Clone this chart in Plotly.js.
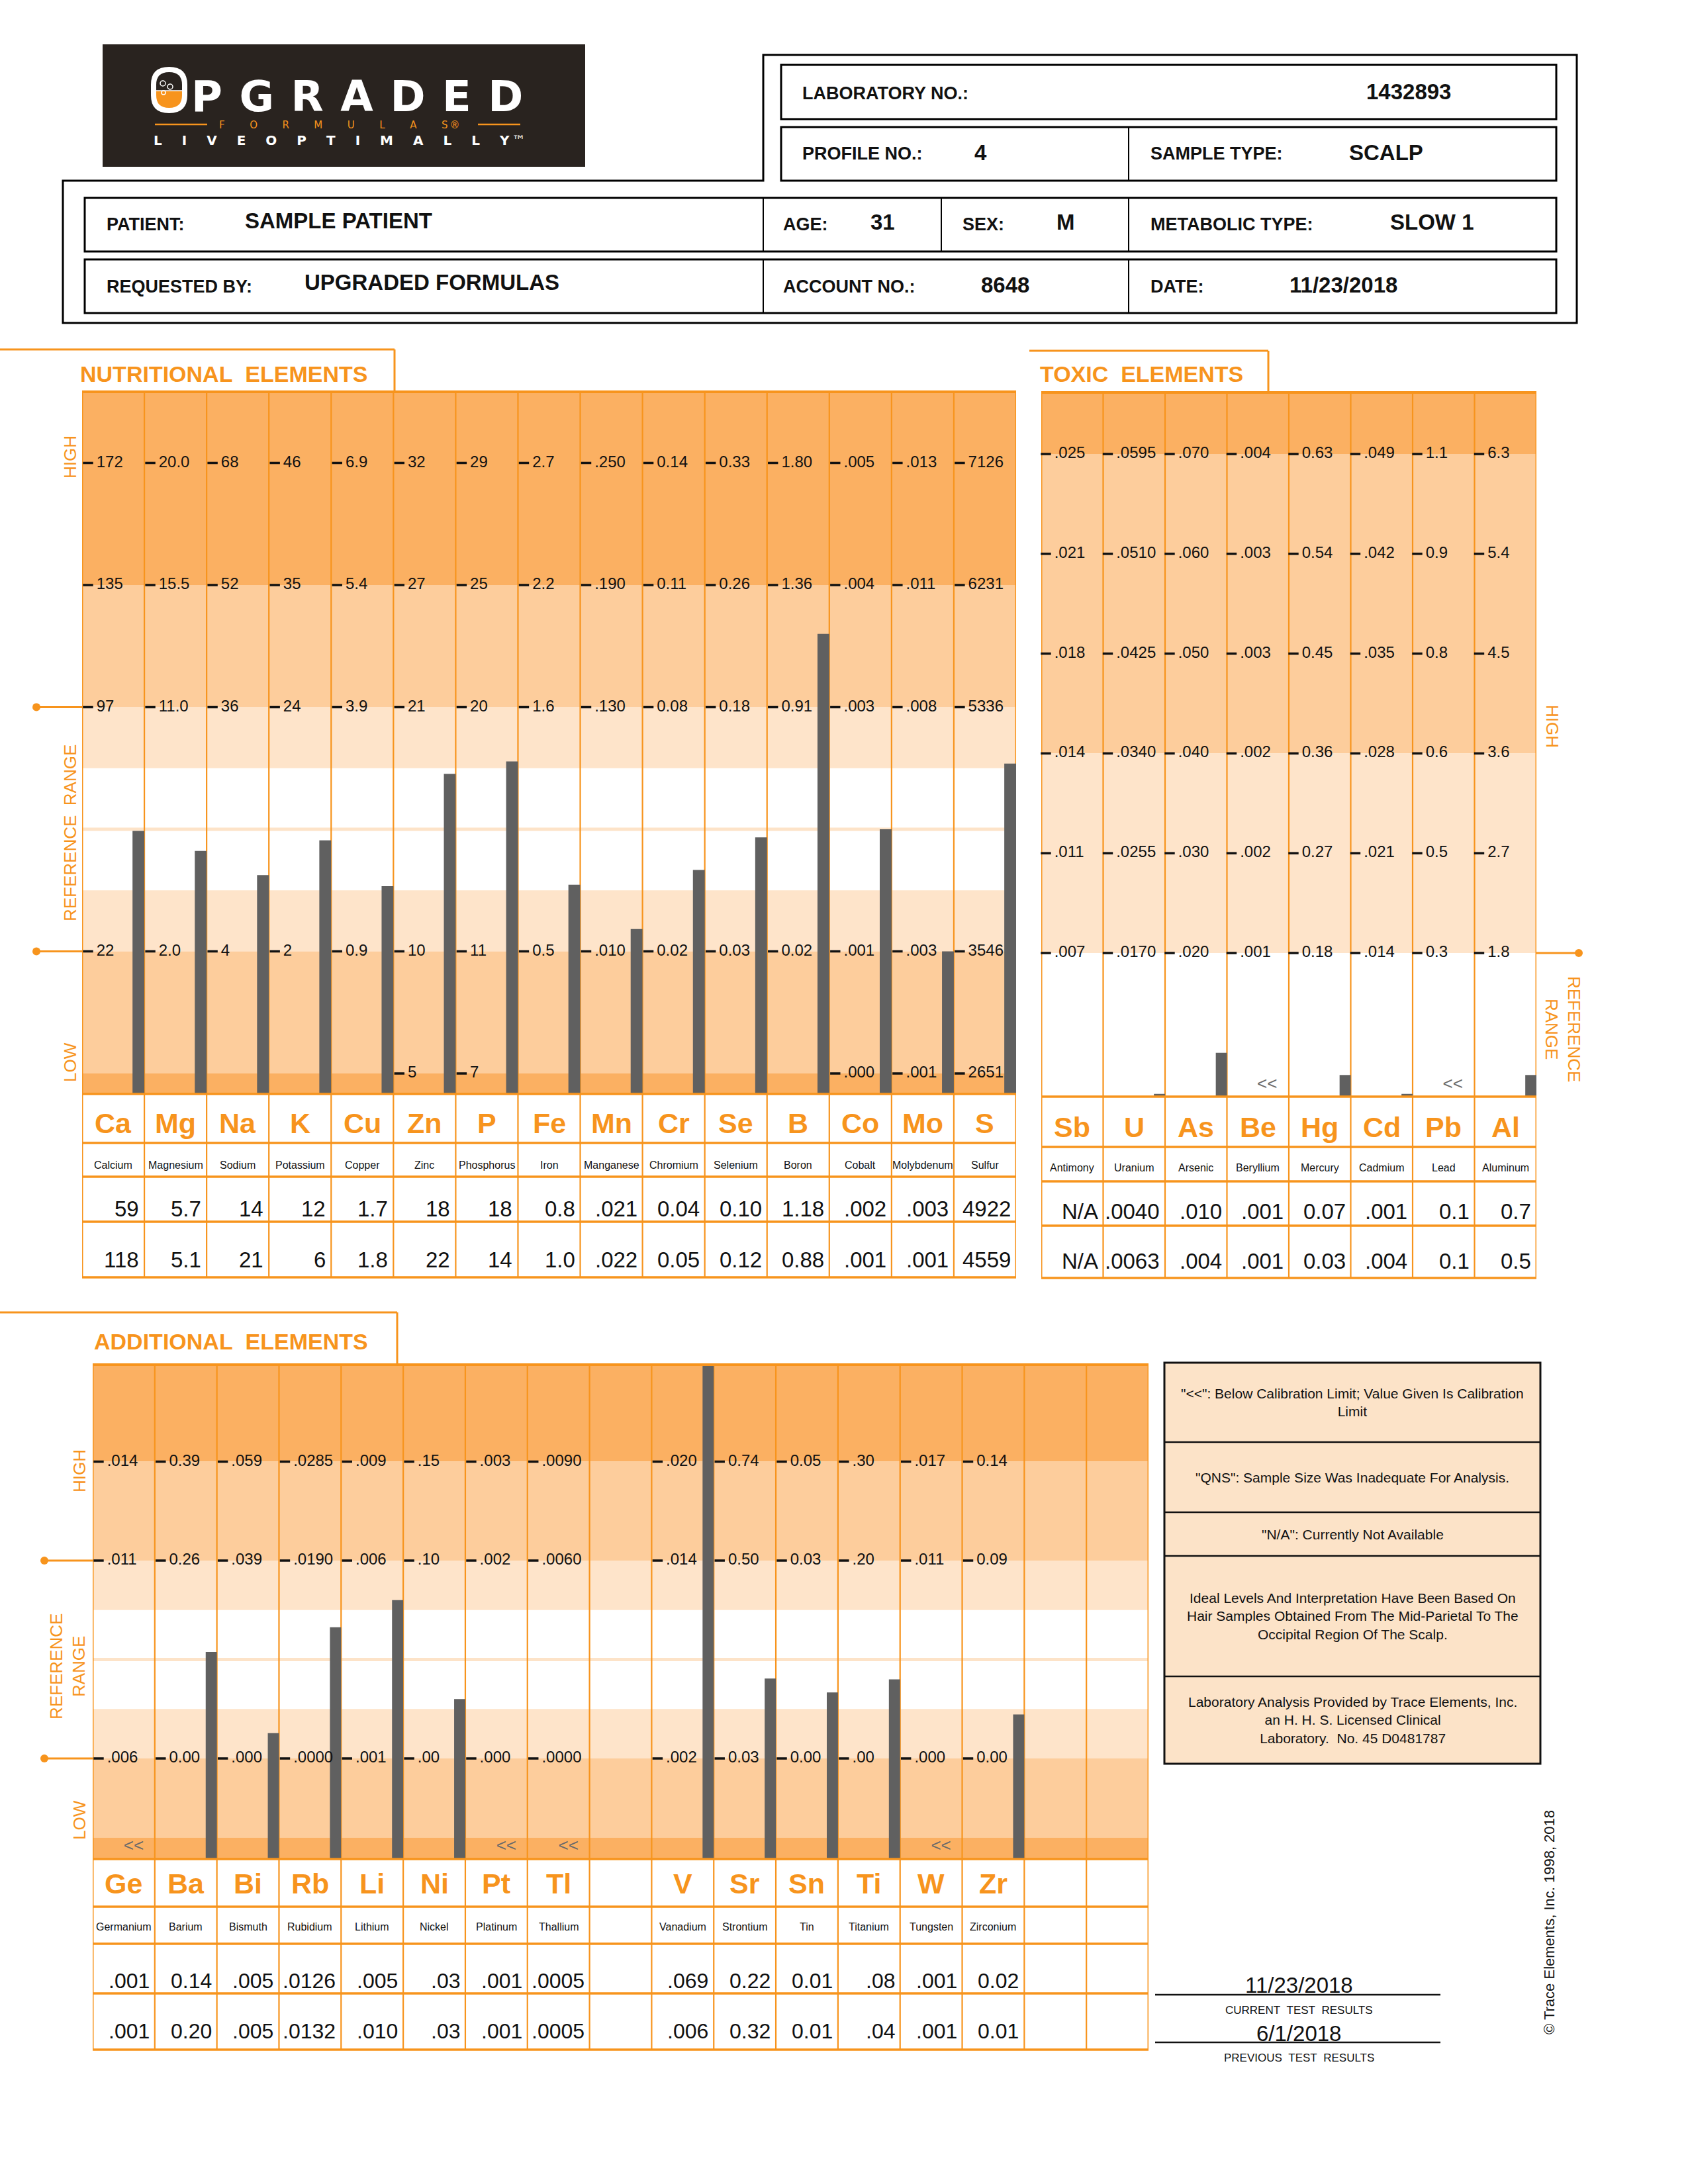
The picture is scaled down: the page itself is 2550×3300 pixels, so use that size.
<!DOCTYPE html>
<html><head><meta charset="utf-8">
<script src="https://cdn.plot.ly/plotly-3.0.1.min.js"></script>
<style>html,body{margin:0;padding:0;background:#fff}</style>
</head><body><div id="chart" style="width:2550px;height:3300px"></div>
<script>
// ================= DATA =================
const headerLabels = ['LABORATORY NO.:','PROFILE NO.:','SAMPLE TYPE:','PATIENT:','AGE:','SEX:','METABOLIC TYPE:','REQUESTED BY:','ACCOUNT NO.:','DATE:'];
const headerValues = ['1432893','4','SCALP','SAMPLE PATIENT','31','M','SLOW 1','UPGRADED FORMULAS','8648','11/23/2018'];

const nutriSymbols = ['Ca','Mg','Na','K','Cu','Zn','P','Fe','Mn','Cr','Se','B','Co','Mo','S'];
const nutriNames = ['Calcium','Magnesium','Sodium','Potassium','Copper','Zinc','Phosphorus','Iron','Manganese','Chromium','Selenium','Boron','Cobalt','Molybdenum','Sulfur'];
const nutriTickL5 = ['172','20.0','68','46','6.9','32','29','2.7','.250','0.14','0.33','1.80','.005','.013','7126'];
const nutriTickL4 = ['135','15.5','52','35','5.4','27','25','2.2','.190','0.11','0.26','1.36','.004','.011','6231'];
const nutriTickL3 = ['97','11.0','36','24','3.9','21','20','1.6','.130','0.08','0.18','0.91','.003','.008','5336'];
const nutriTickL1 = ['22','2.0','4','2','0.9','10','11','0.5','.010','0.02','0.03','0.02','.001','.003','3546'];
const nutriTickL0 = ['','','','','','5','7','','','','','','.000','.001','2651'];
const nutriCurrent = ['59','5.7','14','12','1.7','18','18','0.8','.021','0.04','0.10','1.18','.002','.003','4922'];
const nutriPrevious = ['118','5.1','21','6','1.8','22','14','1.0','.022','0.05','0.12','0.88','.001','.001','4559'];
const nutriFlags = ['','','','','','','','','','','','','','',''];

const toxicSymbols = ['Sb','U','As','Be','Hg','Cd','Pb','Al'];
const toxicNames = ['Antimony','Uranium','Arsenic','Beryllium','Mercury','Cadmium','Lead','Aluminum'];
const toxicTickL5 = ['.025','.0595','.070','.004','0.63','.049','1.1','6.3'];
const toxicTickL4 = ['.021','.0510','.060','.003','0.54','.042','0.9','5.4'];
const toxicTickL3 = ['.018','.0425','.050','.003','0.45','.035','0.8','4.5'];
const toxicTickL2 = ['.014','.0340','.040','.002','0.36','.028','0.6','3.6'];
const toxicTickL1 = ['.011','.0255','.030','.002','0.27','.021','0.5','2.7'];
const toxicTickL0 = ['.007','.0170','.020','.001','0.18','.014','0.3','1.8'];
const toxicCurrent = ['N/A','.0040','.010','.001','0.07','.001','0.1','0.7'];
const toxicPrevious = ['N/A','.0063','.004','.001','0.03','.004','0.1','0.5'];
const toxicFlags = ['','','','<<','','','<<',''];

const addSymbols = ['Ge','Ba','Bi','Rb','Li','Ni','Pt','Tl','','V','Sr','Sn','Ti','W','Zr','',''];
const addNames = ['Germanium','Barium','Bismuth','Rubidium','Lithium','Nickel','Platinum','Thallium','','Vanadium','Strontium','Tin','Titanium','Tungsten','Zirconium','',''];
const addTickL4 = ['.014','0.39','.059','.0285','.009','.15','.003','.0090','','.020','0.74','0.05','.30','.017','0.14','',''];
const addTickL3 = ['.011','0.26','.039','.0190','.006','.10','.002','.0060','','.014','0.50','0.03','.20','.011','0.09','',''];
const addTickL1 = ['.006','0.00','.000','.0000','.001','.00','.000','.0000','','.002','0.03','0.00','.00','.000','0.00','',''];
const addCurrent = ['.001','0.14','.005','.0126','.005','.03','.001','.0005','','.069','0.22','0.01','.08','.001','0.02','',''];
const addPrevious = ['.001','0.20','.005','.0132','.010','.03','.001','.0005','','.006','0.32','0.01','.04','.001','0.01','',''];
const addFlags = ['<<','','','','','','<<','<<','','','','','','<<','','',''];

const legendNotes = [
  '"<<": Below Calibration Limit; Value Given Is Calibration<br>Limit',
  '"QNS": Sample Size Was Inadequate For Analysis.',
  '"N/A": Currently Not Available',
  'Ideal Levels And Interpretation Have Been Based On<br>Hair Samples Obtained From The Mid-Parietal To The<br>Occipital Region Of The Scalp.',
  'Laboratory Analysis Provided by Trace Elements, Inc.<br>an H. H. S. Licensed Clinical<br>Laboratory.\u00A0\u00A0No. 45 D0481787'
];
const currentDate = '11/23/2018';
const previousDate = '6/1/2018';
const copyrightText = '\u00A9 Trace Elements, Inc. 1998, 2018';
const logoWord = 'PGRADED', logoSub = 'FORMULAS', logoTag = 'LIVEOPTIMALLY';

// ================= LAYOUT HELPERS =================
const W = 2550, H = 3300;
const PX = x => x / W, PY = y => 1 - y / H;
const ORANGE = '#F7941D', DARK = '#FBB062', MED = '#FDCD9C', LIGHT = '#FEE4CA', BARC = '#606060';
const FONT = 'Liberation Sans, Arial, Helvetica, sans-serif';
const shapes = [], annotations = [], traces = [];
const layout = {width: W, height: H, margin: {l: 0, r: 0, t: 0, b: 0}, paper_bgcolor: '#ffffff',
  plot_bgcolor: 'rgba(0,0,0,0)', showlegend: false, font: {family: FONT}, shapes, annotations};

function ann(text, x, y, o) {
  annotations.push(Object.assign({text, x: PX(x), y: PY(y), xref: 'paper', yref: 'paper', showarrow: false,
    xanchor: 'left', yanchor: 'middle', font: {family: FONT, size: 27, color: '#111'}}, o || {}));
}
function line(x0, y0, x1, y1, color, width, o) {
  shapes.push(Object.assign({type: 'line', xref: 'paper', yref: 'paper', x0: PX(x0), y0: PY(y0), x1: PX(x1), y1: PY(y1),
    line: {color, width}}, o || {}));
}
function rect(x0, y0, x1, y1, fill, lc, lw, o) {
  shapes.push(Object.assign({type: 'rect', xref: 'paper', yref: 'paper', x0: PX(x0), y0: PY(y1), x1: PX(x1), y1: PY(y0),
    fillcolor: fill, line: {color: lc, width: lw}}, o || {}));
}
function pathPx(pts) {
  return pts.map(s => s[0] + ' ' + s.slice(1).reduce((a, v, k) => a + (k % 2 === 0 ? PX(v) : ',' + PY(v) + ' '), '')).join(' ');
}
function circlePx(cx, cy, r, o) {
  shapes.push(Object.assign({type: 'circle', xref: 'paper', yref: 'paper', x0: PX(cx - r), x1: PX(cx + r), y0: PY(cy + r), y1: PY(cy - r)}, o));
}

// piecewise-linear level of a value within a column's tick ladder
function levelOf(points, v) {
  const pts = points.filter(p => p[1] !== '').map(p => [p[0], parseFloat(p[1])]).sort((a, b) => a[0] - b[0]);
  let i;
  if (v <= pts[0][1]) i = 0;
  else if (v >= pts[pts.length - 1][1]) i = pts.length - 2;
  else { for (i = 0; i < pts.length - 2; i++) if (v >= pts[i][1] && v <= pts[i + 1][1]) break; }
  const [l0, v0] = pts[i], [l1, v1] = pts[i + 1];
  if (v1 === v0) return l0;
  return l0 + (v - v0) * (l1 - l0) / (v1 - v0);
}

// ================= LOGO =================
rect(155, 67, 884, 252, '#29231F', '#29231F', 0);
(function () {
  const x0 = 232, x1 = 279, yt = 105, yb = 167, r = 23, xm = (x0 + x1) / 2, ymid = 137;
  shapes.push({type: 'path', xref: 'paper', yref: 'paper', fillcolor: ORANGE, line: {width: 0},
    path: pathPx([['M', x0, ymid], ['L', x1, ymid], ['L', x1, yb - r], ['Q', x1, yb, xm, yb], ['Q', x0, yb, x0, yb - r]]) + ' Z'});
  shapes.push({type: 'path', xref: 'paper', yref: 'paper', fillcolor: 'rgba(0,0,0,0)', line: {color: '#ffffff', width: 8},
    path: pathPx([['M', x0, yt + r], ['Q', x0, yt, xm, yt], ['Q', x1, yt, x1, yt + r], ['L', x1, yb - r], ['Q', x1, yb, xm, yb], ['Q', x0, yb, x0, yb - r]]) + ' Z'});
  line(x0, ymid, x1, ymid, '#ffffff', 1.5);
  circlePx(246, 126, 4, {line: {color: '#ffffff', width: 1.5}, fillcolor: 'rgba(0,0,0,0)'});
  circlePx(257, 131, 4, {line: {color: '#ffffff', width: 1.5}, fillcolor: 'rgba(0,0,0,0)'});
  circlePx(247, 140, 3, {line: {color: '#ffffff', width: 1.5}, fillcolor: 'rgba(0,0,0,0)'});
})();
ann('<b>' + logoWord.split('').join('\u2009\u200A\u200A') + '</b>', 287, 146, {font: {family: 'DejaVu Sans, sans-serif', size: 64, color: '#ffffff'}});
line(234, 188, 313, 188, ORANGE, 2.5);
line(722, 188, 786, 188, ORANGE, 2.5);
ann(logoSub.split('').join('\u2003\u2003\u2002') + '\u2009\u00AE', 512, 189, {xanchor: 'center', font: {family: 'DejaVu Sans, sans-serif', size: 15, color: ORANGE}});
ann('<b>' + logoTag.split('').join('\u2003\u2002') + '</b>\u2009\u2122', 512, 212, {xanchor: 'center', font: {family: 'DejaVu Sans, sans-serif', size: 20, color: '#ffffff'}});

// ================= HEADER BOXES =================
shapes.push({type: 'path', xref: 'paper', yref: 'paper', line: {color: '#000', width: 3}, fillcolor: 'rgba(0,0,0,0)',
  path: pathPx([['M', 95, 273], ['L', 1153, 273], ['L', 1153, 83], ['L', 2382, 83], ['L', 2382, 488], ['L', 95, 488]]) + ' Z'});
rect(1180, 98, 2351, 180, 'rgba(0,0,0,0)', '#000', 3);
rect(1180, 192, 2351, 273, 'rgba(0,0,0,0)', '#000', 3);
line(1705, 192, 1705, 273, '#000', 2);
rect(128, 299, 2351, 380, 'rgba(0,0,0,0)', '#000', 3);
[1153, 1422, 1705].forEach(x => line(x, 299, x, 380, '#000', 2));
rect(128, 392, 2351, 473, 'rgba(0,0,0,0)', '#000', 3);
[1153, 1705].forEach(x => line(x, 392, x, 473, '#000', 2));
const headerLabelPos = [[1210, 141], [1210, 232], [1736, 232], [159, 339], [1181, 339], [1452, 339], [1736, 339], [159, 433], [1181, 433], [1736, 433]];
const headerValuePos = [[2128, 139, 'center'], [1481, 230, 'center'], [2036, 230, 'left'], [368, 333, 'left'], [1313, 336, 'left'],
  [1594, 336, 'left'], [2098, 336, 'left'], [458, 426, 'left'], [1480, 430, 'left'], [1946, 430, 'left']];
headerLabels.forEach((t, i) => ann('<b>' + t + '</b>', headerLabelPos[i][0], headerLabelPos[i][1], {font: {family: FONT, size: 27, color: '#111'}}));
headerValues.forEach((t, i) => ann('<b>' + t + '</b>', headerValuePos[i][0], headerValuePos[i][1],
  {xanchor: headerValuePos[i][2], font: {family: FONT, size: 33, color: '#111'}}));

// ================= PANELS =================
const panels = [
  {sfx: '', symbols: nutriSymbols, names: nutriNames, current: nutriCurrent, previous: nutriPrevious, flags: nutriFlags,
    ticks: [[5, nutriTickL5], [4, nutriTickL4], [3, nutriTickL3], [1, nutriTickL1], [0, nutriTickL0]],
    left: 124, right: 1535, top: 592, bottom: 1653, L0px: 1622, unit: 184.5,
    bands: [[4, null, DARK], [3, 4, MED], [2.5, 3, LIGHT], [1, 1.5, LIGHT], [0, 1, MED], [null, 0, DARK]], faint: 2,
    rows: [1653, 1727, 1778, 1846, 1930], symY: 1697, nameY: 1760, curY: 1826, prevY: 1903, valSize: 33,
    barW: 0.19, dashPx: 9, flagL: 0.1, flagDx: 0.15,
    title: 'NUTRITIONAL\u00A0\u00A0ELEMENTS', titleX: 119, titleY: 565, bracket: [0, 528, 596]},
  {sfx: '2', symbols: toxicSymbols, names: toxicNames, current: toxicCurrent, previous: toxicPrevious, flags: toxicFlags,
    ticks: [[5, toxicTickL5], [4, toxicTickL4], [3, toxicTickL3], [2, toxicTickL2], [1, toxicTickL1], [0, toxicTickL0]],
    left: 1573, right: 2321, top: 593, bottom: 1657, L0px: 1440, unit: 150.8,
    bands: [[5, null, DARK], [2, 5, MED], [0, 2, LIGHT]], faint: null,
    rows: [1657, 1733, 1785, 1852, 1931], symY: 1703, nameY: 1765, curY: 1830, prevY: 1905, valSize: 33,
    barW: 0.18, dashPx: 7, flagL: -1.32, flagDx: 0.15,
    title: 'TOXIC\u00A0\u00A0ELEMENTS', titleX: 1569, titleY: 565, bracket: [1555, 530, 1916]},
  {sfx: '3', symbols: addSymbols, names: addNames, current: addCurrent, previous: addPrevious, flags: addFlags,
    ticks: [[4, addTickL4], [3, addTickL3], [1, addTickL1]],
    left: 140, right: 1735, top: 2062, bottom: 2809, L0px: 2806.5, unit: 149.5,
    bands: [[4, null, DARK], [3, 4, MED], [2.5, 3, LIGHT], [1, 1.5, LIGHT], [0.2, 1, MED], [null, 0.2, DARK]], faint: 2,
    rows: [2809, 2881, 2937, 3012, 3097], symY: 2846, nameY: 2911, curY: 2993, prevY: 3069, valSize: 32,
    barW: 0.18, dashPx: 9, flagL: 0.11, flagDx: 0.16,
    title: 'ADDITIONAL\u00A0\u00A0ELEMENTS', titleX: 140, titleY: 2027, bracket: [0, 1983, 600]}
];

panels.forEach(p => {
  const n = p.symbols.length;
  const xr = 'x' + p.sfx, yr = 'y' + p.sfx;
  const lv = y => (p.L0px - y) / p.unit;
  const yMin = lv(p.bottom), yMax = lv(p.top);
  const colW = (p.right - p.left) / n;
  layout['xaxis' + p.sfx] = {domain: [PX(p.left), PX(p.right)], range: [-0.5, n - 0.5], visible: false, anchor: yr, fixedrange: true};
  layout['yaxis' + p.sfx] = {domain: [PY(p.bottom), PY(p.top)], range: [yMin, yMax], visible: false, anchor: xr, fixedrange: true};

  // background bands
  p.bands.forEach(([a, b, c]) => shapes.push({type: 'rect', layer: 'below', xref: xr + ' domain', yref: yr, x0: 0, x1: 1,
    y0: a === null ? yMin : a, y1: b === null ? yMax : b, fillcolor: c, line: {width: 0}}));
  if (p.faint !== null) shapes.push({type: 'line', layer: 'below', xref: xr + ' domain', yref: yr, x0: 0, x1: 1,
    y0: p.faint, y1: p.faint, line: {color: '#FDE3C8', width: 5}});

  // column lines
  for (let i = 0; i <= n; i++) {
    shapes.push({type: 'line', layer: 'below', xref: xr, yref: 'paper', x0: i - 0.5, x1: i - 0.5,
      y0: PY(p.top), y1: PY(p.rows[p.rows.length - 1]), line: {color: ORANGE, width: (i === 0 || i === n) ? 3 : 2.2}});
  }
  // horizontal lines
  shapes.push({type: 'line', xref: xr + ' domain', yref: 'paper', x0: 0, x1: 1, y0: PY(p.top), y1: PY(p.top), line: {color: ORANGE, width: 4}});
  p.rows.forEach(y => shapes.push({type: 'line', xref: xr + ' domain', yref: 'paper', x0: 0, x1: 1, y0: PY(y), y1: PY(y),
    line: {color: ORANGE, width: 3.5}}));
  // title bracket
  const [bx0, by, bx1] = p.bracket;
  line(bx0, by, bx1, by, ORANGE, 3);
  line(bx1, by, bx1, p.top, ORANGE, 3);
  ann('<b>' + p.title + '</b>', p.titleX, p.titleY, {font: {family: FONT, size: 34, color: ORANGE}});

  // tick ladders
  const tx = [], ty = [], tt = [];
  p.ticks.forEach(([L, arr]) => arr.forEach((s, i) => { if (s !== '') { tx.push(i - 0.5 + p.dashPx / colW); ty.push(L); tt.push('\u2009' + s); } }));
  traces.push({type: 'scatter', mode: 'markers+text', x: tx, y: ty, text: tt, textposition: 'middle right',
    xaxis: xr, yaxis: yr, cliponaxis: false, hoverinfo: 'skip',
    marker: {symbol: 'line-ew', size: 11, color: '#111', line: {width: 3.5, color: '#111'}},
    textfont: {family: FONT, size: 24, color: '#111'}});

  // bars
  const bx = [], by2 = [];
  p.current.forEach((s, i) => {
    const v = parseFloat(s);
    if (p.flags[i] || isNaN(v)) return;
    let L = levelOf(p.ticks.map(([lvl, arr]) => [lvl, arr[i]]), v);
    L = Math.max(yMin + 0.028, Math.min(yMax, L));
    bx.push(i); by2.push(L - yMin);
  });
  traces.push({type: 'bar', x: bx, y: by2, base: yMin, width: p.barW, offset: 0.5 - p.barW,
    marker: {color: BARC, line: {width: 0}}, xaxis: xr, yaxis: yr, hoverinfo: 'skip'});

  // below-calibration flags
  const fx = [], fy = [], ft = [];
  p.flags.forEach((f, i) => { if (f) { fx.push(i + p.flagDx); fy.push(p.flagL); ft.push(f); } });
  if (fx.length) traces.push({type: 'scatter', mode: 'text', x: fx, y: fy, text: ft, xaxis: xr, yaxis: yr,
    cliponaxis: false, hoverinfo: 'skip', textfont: {family: FONT, size: 26, color: '#6a6a6a'}});

  // table rows
  p.symbols.forEach((s, i) => {
    if (s === '') return;
    annotations.push({text: '<b>' + s + '</b>', x: i, y: PY(p.symY), xref: xr, yref: 'paper', showarrow: false,
      xanchor: 'center', yanchor: 'middle', font: {family: FONT, size: 43, color: ORANGE}});
    annotations.push({text: p.names[i], x: i, y: PY(p.nameY), xref: xr, yref: 'paper', showarrow: false,
      xanchor: 'center', yanchor: 'middle', font: {family: FONT, size: 16, color: '#111'}});
    annotations.push({text: p.current[i], x: i + 0.5, xshift: -6, y: PY(p.curY), xref: xr, yref: 'paper', showarrow: false,
      xanchor: 'right', yanchor: 'middle', font: {family: FONT, size: p.valSize, color: '#111'}});
    annotations.push({text: p.previous[i], x: i + 0.5, xshift: -6, y: PY(p.prevY), xref: xr, yref: 'paper', showarrow: false,
      xanchor: 'right', yanchor: 'middle', font: {family: FONT, size: p.valSize, color: '#111'}});
  });
});

// ---- side labels and reference markers ----
function refMarker(yr, level, xa, xb, dotX) {
  shapes.push({type: 'line', xref: 'paper', yref: yr, x0: PX(xa), x1: PX(xb), y0: level, y1: level, line: {color: ORANGE, width: 3}});
  shapes.push({type: 'circle', xref: 'paper', yref: yr, xsizemode: 'pixel', ysizemode: 'pixel', xanchor: PX(dotX), yanchor: level,
    x0: -6, x1: 6, y0: -6, y1: 6, fillcolor: ORANGE, line: {width: 0}});
}
const sideFont = {family: FONT, size: 26, color: ORANGE};
ann('HIGH', 106, 690, {xanchor: 'center', textangle: -90, font: sideFont});
ann('REFERENCE\u00A0\u00A0RANGE', 106, 1258, {xanchor: 'center', textangle: -90, font: sideFont});
ann('LOW', 106, 1605, {xanchor: 'center', textangle: -90, font: sideFont});
refMarker('y', 3, 55, 124, 55);
refMarker('y', 1, 55, 124, 55);
ann('HIGH', 2345, 1097, {xanchor: 'center', textangle: 90, font: sideFont});
ann('REFERENCE<br>RANGE', 2361, 1555, {xanchor: 'center', textangle: 90, font: sideFont});
refMarker('y2', 0, 2321, 2385, 2385);
ann('HIGH', 120, 2223, {xanchor: 'center', textangle: -90, font: sideFont});
ann('REFERENCE<br>RANGE', 102, 2518, {xanchor: 'center', textangle: -90, font: sideFont});
ann('LOW', 120, 2750, {xanchor: 'center', textangle: -90, font: sideFont});
refMarker('y3', 3, 67, 140, 67);
refMarker('y3', 1, 67, 140, 67);

// ================= LEGEND BOX =================
const legendRows = [2059, 2179, 2285, 2351, 2533, 2665];
rect(1759, 2059, 2327, 2665, '#FCE3C8', '#111', 3);
legendRows.slice(1, -1).forEach(y => line(1759, y, 2327, y, '#111', 2.5));
legendNotes.forEach((t, i) => ann(t, 2043, (legendRows[i] + legendRows[i + 1]) / 2,
  {xanchor: 'center', align: 'center', font: {family: FONT, size: 21, color: '#111'}}));

// ================= DATES & COPYRIGHT =================
ann(currentDate, 1962, 2999, {xanchor: 'center', font: {family: FONT, size: 33, color: '#111'}});
line(1745, 3014, 2176, 3014, '#111', 2.5);
ann('CURRENT\u00A0\u00A0TEST\u00A0\u00A0RESULTS', 1962, 3037, {xanchor: 'center', font: {family: FONT, size: 17, color: '#111'}});
ann(previousDate, 1962, 3072, {xanchor: 'center', font: {family: FONT, size: 33, color: '#111'}});
line(1745, 3086, 2176, 3086, '#111', 2.5);
ann('PREVIOUS\u00A0\u00A0TEST\u00A0\u00A0RESULTS', 1962, 3109, {xanchor: 'center', font: {family: FONT, size: 17, color: '#111'}});
ann(copyrightText, 2340, 2905, {xanchor: 'center', textangle: -90, font: {family: FONT, size: 22, color: '#111'}});

Plotly.newPlot('chart', traces, layout, {displayModeBar: false, staticPlot: true});
</script>
</body></html>
